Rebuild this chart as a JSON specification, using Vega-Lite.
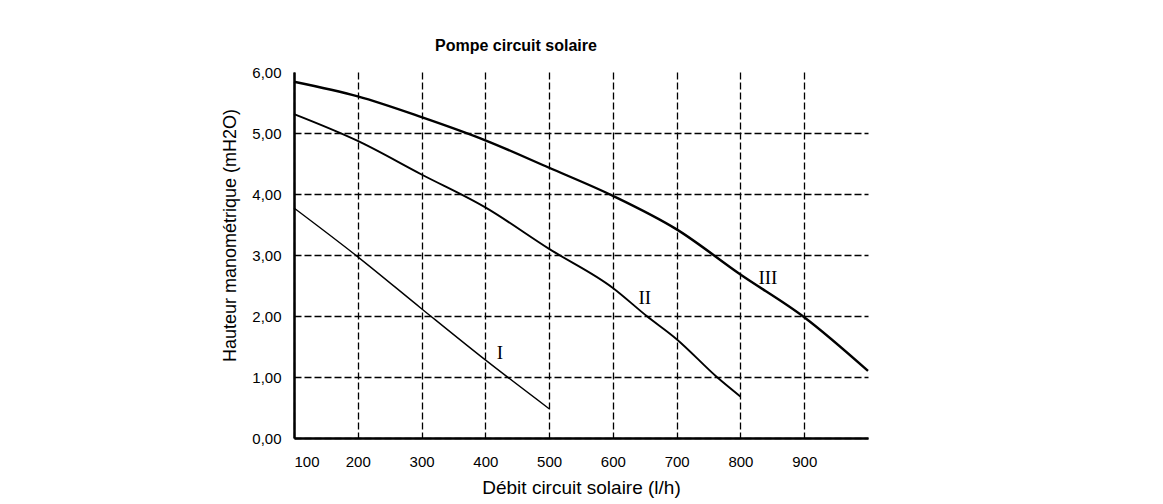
{
  "$schema": "https://vega.github.io/schema/vega-lite/v6.json",
  "width": 574,
  "height": 366,
  "autosize": "none",
  "padding": {"left": 294, "top": 72, "right": 295, "bottom": 66},
  "background": "white",
  "config": {"view": {"stroke": null}, "font": "Liberation Sans"},
  "title": {
    "text": "Pompe circuit solaire",
    "font": "Liberation Sans",
    "fontSize": 16,
    "fontWeight": "bold",
    "color": "black",
    "frame": "group",
    "anchor": "middle",
    "dx": -65,
    "offset": 11
  },
  "datasets": {
    "curves": [
      {"serie": "I", "x": 100, "y": 3.77},
      {"serie": "I", "x": 200, "y": 2.97},
      {"serie": "I", "x": 300, "y": 2.12},
      {"serie": "I", "x": 400, "y": 1.28},
      {"serie": "I", "x": 500, "y": 0.48},
      {"serie": "II", "x": 100, "y": 5.31},
      {"serie": "II", "x": 200, "y": 4.87},
      {"serie": "II", "x": 300, "y": 4.32},
      {"serie": "II", "x": 400, "y": 3.78},
      {"serie": "II", "x": 500, "y": 3.10},
      {"serie": "II", "x": 600, "y": 2.46},
      {"serie": "II", "x": 653, "y": 2.00},
      {"serie": "II", "x": 700, "y": 1.62},
      {"serie": "II", "x": 763, "y": 1.00},
      {"serie": "II", "x": 800, "y": 0.68},
      {"serie": "III", "x": 100, "y": 5.84},
      {"serie": "III", "x": 200, "y": 5.60},
      {"serie": "III", "x": 300, "y": 5.26},
      {"serie": "III", "x": 400, "y": 4.88},
      {"serie": "III", "x": 500, "y": 4.43},
      {"serie": "III", "x": 600, "y": 3.97},
      {"serie": "III", "x": 700, "y": 3.42},
      {"serie": "III", "x": 800, "y": 2.68},
      {"serie": "III", "x": 900, "y": 1.98},
      {"serie": "III", "x": 1000, "y": 1.10}
    ],
    "labels": [
      {"serie": "I", "x": 423, "y": 1.39},
      {"serie": "II", "x": 650, "y": 2.29},
      {"serie": "III", "x": 843, "y": 2.62}
    ]
  },
  "encoding": {
    "x": {
      "field": "x",
      "type": "quantitative",
      "scale": {"domain": [100, 1000], "nice": false, "zero": false},
      "axis": {
        "title": "Débit circuit solaire (l/h)",
        "values": [100, 200, 300, 400, 500, 600, 700, 800, 900],
        "grid": true,
        "gridColor": "black",
        "gridDash": [7, 3],
        "gridWidth": 1.3,
        "domainColor": "black",
        "domainWidth": 2.5,
        "ticks": false,
        "labelFont": "Liberation Sans",
        "labelFontSize": 15,
        "labelColor": "black",
        "labelPadding": 16,
        "titleFont": "Liberation Sans",
        "titleFontSize": 19,
        "titleFontWeight": "normal",
        "titleColor": "black",
        "titlePadding": 9
      }
    },
    "y": {
      "field": "y",
      "type": "quantitative",
      "scale": {"domain": [0, 6], "nice": false, "zero": true},
      "axis": {
        "title": "Hauteur manométrique (mH2O)",
        "values": [0, 1, 2, 3, 4, 5, 6],
        "labelExpr": "replace(format(datum.value, '.2f'), '.', ',')",
        "grid": true,
        "gridColor": "black",
        "gridDash": [7, 3],
        "gridWidth": 1.3,
        "gridOpacity": {"condition": {"test": "datum.value == 6", "value": 0}, "value": 1},
        "domainColor": "black",
        "domainWidth": 2.5,
        "ticks": false,
        "labelFont": "Liberation Sans",
        "labelFontSize": 15,
        "labelColor": "black",
        "labelPadding": 13,
        "titleFont": "Liberation Sans",
        "titleFontSize": 18,
        "titleFontWeight": "normal",
        "titleColor": "black",
        "titlePadding": 12,
        "titleY": 163
      }
    }
  },
  "layer": [
    {
      "data": {"name": "curves"},
      "mark": {"type": "line", "interpolate": "monotone", "color": "black"},
      "encoding": {
        "detail": {"field": "serie", "type": "nominal"},
        "strokeWidth": {
          "field": "serie",
          "type": "nominal",
          "scale": {"domain": ["I", "II", "III"], "range": [1.4, 2.4, 2.5]},
          "legend": null
        }
      }
    },
    {
      "data": {"name": "labels"},
      "mark": {"type": "text", "font": "Liberation Serif", "fontSize": 19, "color": "black"},
      "encoding": {
        "text": {"field": "serie", "type": "nominal"}
      }
    }
  ]
}
